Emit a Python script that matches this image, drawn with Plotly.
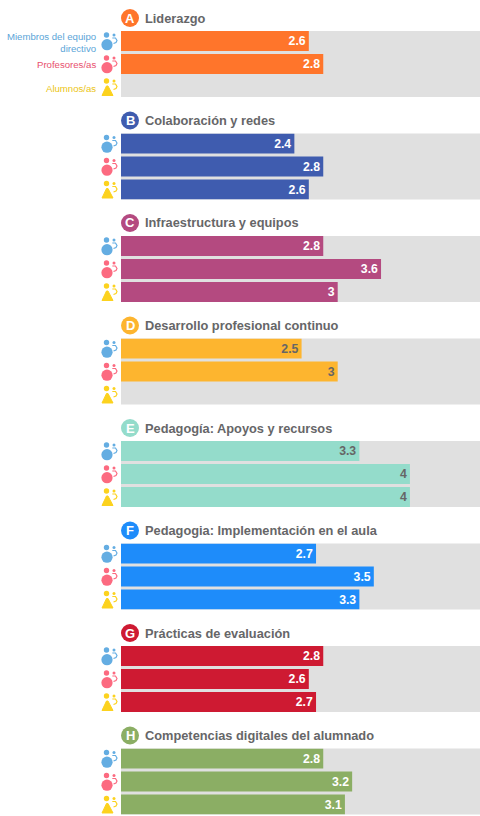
import plotly.graph_objects as go
from plotly.subplots import make_subplots

groups = ["Liderazgo", "Colaboración y redes", "Infraestructura y equipos",
          "Desarrollo profesional continuo", "Pedagogía: Apoyos y recursos",
          "Pedagogia: Implementación en el aula", "Prácticas de evaluación",
          "Competencias digitales del alumnado"]
letters = ["A", "B", "C", "D", "E", "F", "G", "H"]
group_colors = ["#FF752B", "#3F5CAF", "#B44A80", "#FDB52F", "#94DCCB", "#1E8CFA", "#CE1A32", "#8BAE64"]
label_colors = ["#ffffff", "#ffffff", "#ffffff", "#666666", "#666666", "#ffffff", "#ffffff", "#ffffff"]
roles = ["Miembros del equipo<br>directivo", "Profesores/as", "Alumnos/as"]
role_colors = ["#64ADE2", "#FC6A80", "#FCD21E"]
role_text_colors = ["#5BA5D8", "#E8506E", "#EBC515"]
miembros = [2.6, 2.4, 2.8, 2.5, 3.3, 2.7, 2.8, 2.8]
profesores = [2.8, 2.8, 3.6, 3, 4, 3.5, 2.6, 3.2]
alumnos = [None, 2.6, 3, None, 4, 3.3, 2.7, 3.1]
scale_max = 4.97

W, H = 480, 816
X0 = 121
TOP0, STEP, PH = 31, 102.5, 66

fig = make_subplots(rows=8, cols=1, shared_xaxes=False)
shapes, annots = [], []


def px(x):
    return x / W


def py(y):
    return 1 - y / H


def circle(cx, cy, r, color):
    return dict(type="circle", xref="paper", yref="paper", layer="above", line_width=0,
                fillcolor=color, x0=px(cx - r), x1=px(cx + r), y0=py(cy - r), y1=py(cy + r))


def path(points, color):
    d = "M" + " L".join(f"{px(a):.5f},{py(b):.5f}" for a, b in points) + " Z"
    return dict(type="path", xref="paper", yref="paper", layer="above",
                line=dict(color=color, width=1, ), fillcolor=color, path=d)


def arc(points, color):
    d = "M" + " L".join(f"{px(a):.5f},{py(b):.5f}" for a, b in points)
    return dict(type="path", xref="paper", yref="paper", layer="above",
                line=dict(color=color, width=1.2), path=d)


for i in range(8):
    row = i + 1
    vals = [miembros[i], profesores[i], alumnos[i]]
    fig.add_trace(go.Bar(
        y=roles, x=vals, orientation="h", width=0.87,
        marker=dict(color=group_colors[i], line_width=0),
        text=[None if v is None else f"{v:g}" for v in vals],
        textposition="inside", insidetextanchor="end", textangle=0,
        insidetextfont=dict(family="Liberation Sans", size=14, color=label_colors[i], weight="bold"),
        cliponaxis=False, showlegend=False,
    ), row=row, col=1)
    top = TOP0 + STEP * i
    xa = "xaxis" if i == 0 else f"xaxis{row}"
    ya = "yaxis" if i == 0 else f"yaxis{row}"
    fig.layout[xa].update(domain=[px(X0), 1], range=[0, scale_max], visible=False, fixedrange=True)
    fig.layout[ya].update(domain=[py(top + PH), py(top)], type="category",
                          categoryorder="array", categoryarray=roles,
                          range=[2.435, -0.435], visible=False, fixedrange=True)
    # group header
    shapes.append(circle(130, top - 13, 9, group_colors[i]))
    annots.append(dict(text=f"<b>{letters[i]}</b>", x=px(130), y=py(top - 13), xref="paper", yref="paper",
                       showarrow=False, xanchor="center", yanchor="middle",
                       font=dict(family="Liberation Sans", size=13, color="#ffffff")))
    annots.append(dict(text=f"<b>{groups[i]}</b>", x=px(143), y=py(top - 13), xref="paper", yref="paper",
                       showarrow=False, xanchor="left", yanchor="middle",
                       font=dict(family="Liberation Sans", size=12.8, color="#666668")))
    # role icons
    for j, col in enumerate(role_colors):
        cy = top + 10 + 23 * j
        if j == 2:
            shapes.append(path([(102, cy + 8.5), (106.5, cy - 1), (108, cy - 1), (113, cy + 8.5)], col))
        else:
            shapes.append(circle(107, cy + 3.7, 5.6, col))
        shapes.append(circle(106.5, cy - 6, 2.7, col))
        shapes.append(circle(114, cy - 6, 1.5, col))
        shapes.append(arc([(112.3, cy - 3), (115.5, cy - 3), (117, cy - 0.5), (116, cy + 1.5), (113.5, cy + 2.5)], col))

for j, col in enumerate(role_text_colors):
    annots.append(dict(text=roles[j], x=px(97.5), y=py(TOP0 + 11 + 23 * j), xref="paper", yref="paper",
                       showarrow=False, xanchor="right", yanchor="middle", align="right",
                       font=dict(family="Liberation Sans", size=9.6, color=col)))

fig.update_layout(width=W, height=H, margin=dict(l=0, r=0, t=0, b=0), autosize=False,
                  paper_bgcolor="#ffffff", plot_bgcolor="#E0E0E0", barmode="overlay",
                  shapes=shapes, annotations=annots,
                  font=dict(family="Liberation Sans"))
fig.write_html("out.html", post_script="document.body.style.margin='0';",
               config=dict(displayModeBar=False))
